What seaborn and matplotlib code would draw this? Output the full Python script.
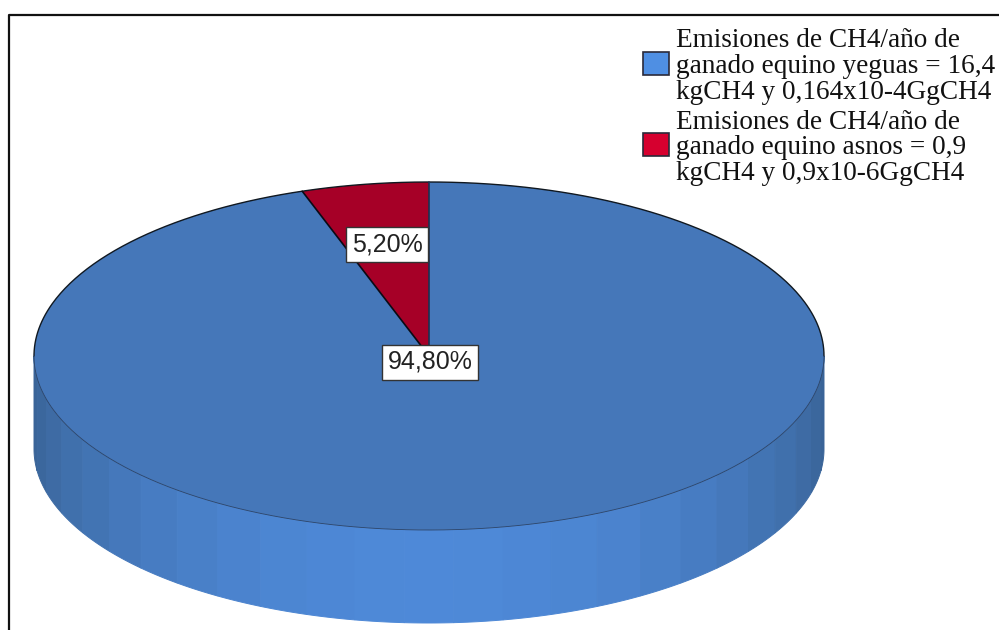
"""
Emisiones de CH4 - ganado equino (pie 3D, estilo SPSS)
"""

import numpy as np
import matplotlib.pyplot as plt
from matplotlib.lines import Line2D
from matplotlib.patches import Patch
import seaborn as sns

# ── Data ──────────────────────────────────────────────────────
values = [5.2, 94.8]
legend_labels = [
    'Emisiones de CH4/año de\nganado equino yeguas = 16,4\nkgCH4 y 0,164x10-4GgCH4',
    'Emisiones de CH4/año de\nganado equino asnos = 0,9\nkgCH4 y 0,9x10-6GgCH4',
]
top_colors = ['#a60027', '#4577b9']
legend_colors = ['#4f8fe3', '#d6002f']

# ── Setup ─────────────────────────────────────────────────────
sns.set_theme(style='white')
W, H = 999, 630
CX, CY, RX, RY = 429, 356, 395, 174
DEPTH = 93 / RY

fig = plt.figure(figsize=(W / 100, H / 100), dpi=100, facecolor='white')
ax = fig.add_axes([0, 0, 1, 1])

# ── Top of the pie ────────────────────────────────────────────
wedges, _, autotexts = ax.pie(
    values, colors=top_colors, startangle=90, radius=1,
    autopct=lambda p: f'{p:.2f}%'.replace('.', ','), pctdistance=0.65,
    wedgeprops={'linewidth': 0, 'zorder': 3},
)
ax.set_aspect('auto')
ax.set_xlim(-CX / RX, (W - CX) / RX)
ax.set_ylim((CY - H) / RY, CY / RY)

# Side wall, strips every 7.2 degrees
dark, light = np.array([0x39, 0x63, 0x96]), np.array([0x4e, 0x89, 0xd8])
edges = np.arange(180, 360.1, 7.2)
for a0, a1 in zip(edges[:-1], edges[1:]):
    t = np.radians(np.linspace(a0, a1, 12))
    xs = np.r_[np.cos(t), np.cos(t[::-1])]
    ys = np.r_[np.sin(t), np.sin(t[::-1]) - DEPTH]
    mix = abs(np.sin(np.radians((a0 + a1) / 2))) ** 1.3
    col = dark + (light - dark) * mix
    ax.fill(xs, ys, color=col / 255, lw=0.7, zorder=2)

# Outline: upper rim black, lower rim faint
t = np.radians(np.linspace(0, 180, 300))
ax.plot(np.cos(t), np.sin(t), color='#101820', lw=1.0, zorder=4)
t = np.radians(np.linspace(180, 360, 300))
ax.plot(np.cos(t), np.sin(t), color='#2c4468', lw=0.6, zorder=4)

# Slice borders
border_angles = np.radians(90 + np.cumsum([0] + values[:-1]) * 3.6)
border_cols = ['#1b3050', '#0a0a14']
for ang, c in zip(border_angles, border_cols):
    ax.plot([0, np.cos(ang)], [0, np.sin(ang)], color=c, lw=1.2, zorder=4)

# ── Labels ────────────────────────────────────────────────────
for txt in autotexts:
    txt.set_family('Liberation Sans')
    txt.set_fontsize(18)
    txt.set_color('#222222')
    txt.set_zorder(6)
    txt.set_bbox({'facecolor': 'white', 'edgecolor': '#333333', 'linewidth': 1,
                  'boxstyle': 'square,pad=0.22'})
autotexts[1].set_position(((430 - CX) / RX, (CY - 362) / RY))

# ── Legend ────────────────────────────────────────────────────
handles = [Patch(facecolor=c, edgecolor='#2a2a3a', linewidth=1.2) for c in legend_colors]
leg = fig.legend(
    handles, legend_labels, loc='upper left', bbox_to_anchor=(643 / W, 1 - 28 / H),
    frameon=False, borderpad=0, borderaxespad=0, handlelength=0.96, handleheight=0.92,
    handletextpad=0.25, labelspacing=0.17,
    prop={'family': 'Liberation Serif', 'size': 19.6},
)
for txt in leg.get_texts():
    txt.set_linespacing(1.05)
    txt.set_color('#111111')
for p in leg.legend_handles:
    p.set_y(p.get_y() + 2.5)

# ── Outer frame (left and top only) ───────────────────────────
frame_x = np.array([9, 9, W]) / W
frame_y = 1 - np.array([H, 15, 15]) / H
fig.add_artist(Line2D(frame_x, frame_y, color='#111111', lw=1.6))

fig.savefig('out.png', dpi=100)
plt.close(fig)
